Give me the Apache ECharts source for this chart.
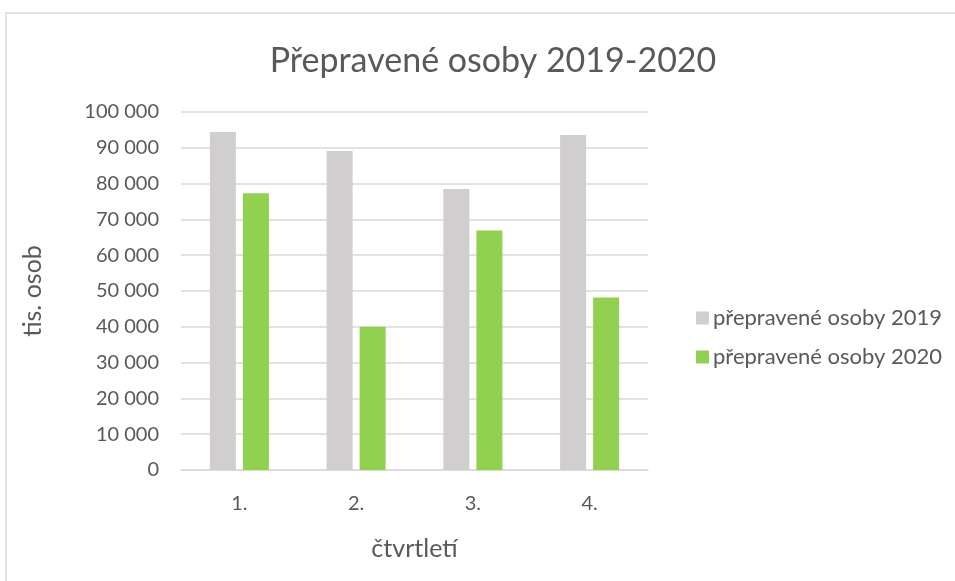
<!DOCTYPE html>
<html>
<head>
<meta charset="utf-8">
<script src="https://cdn.jsdelivr.net/npm/echarts@6/dist/echarts.min.js"></script>
<style>
  html, body { margin: 0; padding: 0; background: #fff; }
  #chart { width: 955px; height: 581px; }
</style>
</head>
<body>
<div id="chart"></div>
<script>
// data
const quarters = ["1.", "2.", "3.", "4."];
const osoby2019 = [94400, 89100, 78500, 93600];
const osoby2020 = [77300, 40000, 66900, 48200];
const seriesNames = ["přepravené osoby 2019", "přepravené osoby 2020"];

const font = "Lato, 'Open Sans', sans-serif";
const textColor = "#595959";

const chart = echarts.init(document.getElementById("chart"));
const option = {
  animation: false,
  graphic: [
    {
      type: "rect",
      shape: { x: 6, y: 13, width: 960, height: 580 },
      style: { fill: "none", stroke: "#d9d9d9", lineWidth: 1.5 },
      silent: true
    }
  ],
  title: {
    text: "Přepravené osoby 2019-2020",
    left: 488,
    textAlign: "center",
    top: 39,
    textStyle: { fontFamily: font, fontSize: 34, fontWeight: "normal", color: textColor }
  },
  legend: {
    orient: "vertical",
    left: 691,
    top: 302,
    itemGap: 17,
    itemWidth: 13,
    itemHeight: 13,
    icon: "rect",
    textStyle: { fontFamily: font, fontSize: 22, color: textColor, padding: [0, 0, 0, -1] },
    data: seriesNames
  },
  grid: { left: 181, right: 307, top: 112, bottom: 111 },
  xAxis: {
    type: "category",
    data: quarters,
    name: "čtvrtletí",
    nameLocation: "middle",
    nameGap: 66,
    nameTextStyle: { fontFamily: font, fontSize: 25, color: textColor },
    axisLine: { lineStyle: { color: "#d9d9d9", width: 1.5 } },
    axisTick: { show: false },
    axisLabel: { fontFamily: font, fontSize: 20, color: textColor, margin: 24 }
  },
  yAxis: {
    type: "value",
    min: 0,
    max: 100000,
    interval: 10000,
    name: "tis. osob",
    nameLocation: "middle",
    nameGap: 136,
    nameTextStyle: { fontFamily: font, fontSize: 25, color: textColor },
    axisLine: { show: false },
    axisTick: { show: false },
    splitLine: { lineStyle: { color: "#d9d9d9", width: 1.5 } },
    axisLabel: {
      fontFamily: font, fontSize: 20, color: textColor, margin: 22,
      formatter: v => String(v).replace(/\B(?=(\d{3})+(?!\d))/g, " ")
    }
  },
  series: [
    {
      name: seriesNames[0],
      type: "bar",
      data: osoby2019,
      barWidth: 26,
      barGap: "27%",
      itemStyle: { color: "#d0cece" }
    },
    {
      name: seriesNames[1],
      type: "bar",
      data: osoby2020,
      barWidth: 26,
      itemStyle: { color: "#92d050" }
    }
  ]
};
chart.setOption(option);
</script>
</body>
</html>
